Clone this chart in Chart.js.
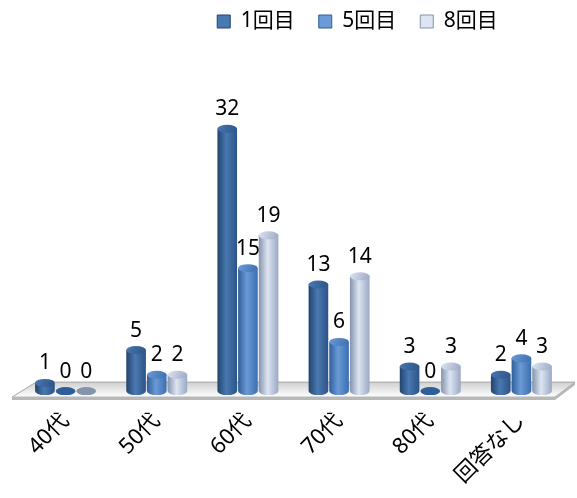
<!DOCTYPE html>
<html>
<head>
<meta charset="utf-8">
<script src="https://cdn.jsdelivr.net/npm/chart.js@4"></script>
<style>
  body { margin: 0; background: #fff; }
  #wrap { width: 577px; height: 498px; }
</style>
</head>
<body>
<div id="wrap"><canvas id="myChart"></canvas></div>
<script>
var ages = ['40代', '50代', '60代', '70代', '80代', '回答なし'];
var round1 = [1, 5, 32, 13, 3, 2];
var round5 = [0, 2, 15, 6, 0, 4];
var round8 = [0, 2, 19, 14, 3, 3];
var seriesNames = ['1回目', '5回目', '8回目'];

var FONT = "'Noto Sans', 'Noto Sans CJK JP', sans-serif";

// dark, mid, light tones for each series cylinder
var tones = [
  ['#22446d', '#4a78b0', '#2c5488'],
  ['#2f5f9a', '#6b9ad6', '#3b6fb0'],
  ['#8593ad', '#dde5f2', '#9aa8c4']
];

function shade(ctx, x, w, t) {
  var g = ctx.createLinearGradient(x - w / 2, 0, x + w / 2, 0);
  g.addColorStop(0, t[0]);
  g.addColorStop(0.45, t[1]);
  g.addColorStop(1, t[2]);
  return g;
}

// Excel puts the legend a bit right of centre and near the top
var legendShift = {
  id: 'legendShift',
  afterLayout: function (chart) {
    var lg = chart.legend;
    lg.left += 64;
    lg.right += 64;
    lg.top -= 13;
    lg.bottom -= 13;
  }
};

// 3D floor slab under the bars
var floorPlugin = {
  id: 'floor',
  beforeDatasetsDraw: function (chart) {
    var ctx = chart.ctx;
    var a = chart.chartArea;
    var y0 = chart.scales.y.getPixelForValue(0);
    ctx.save();
    var top = y0 - 9, front = y0 + 6;
    ctx.beginPath();
    ctx.moveTo(a.left - 8, front);
    ctx.lineTo(a.left + 16, top);
    ctx.lineTo(a.right + 8, top);
    ctx.lineTo(a.right - 12, front);
    ctx.closePath();
    var g = ctx.createLinearGradient(0, top, 0, front);
    g.addColorStop(0, '#d0d0d0');
    g.addColorStop(1, '#ffffff');
    ctx.fillStyle = g;
    ctx.fill();
    ctx.strokeStyle = '#a6a6a6';
    ctx.lineWidth = 1;
    ctx.stroke();
    // front edge thickness
    ctx.beginPath();
    ctx.moveTo(a.left - 8, front);
    ctx.lineTo(a.right - 12, front);
    ctx.lineTo(a.right + 8, top);
    ctx.lineTo(a.right + 8, top + 3);
    ctx.lineTo(a.right - 12, front + 3);
    ctx.lineTo(a.left - 8, front + 3);
    ctx.closePath();
    ctx.fillStyle = '#b8b8b8';
    ctx.fill();
    ctx.restore();
  }
};

// cylinders and value labels
var cylinderPlugin = {
  id: 'cylinders',
  afterDatasetsDraw: function (chart) {
    var ctx = chart.ctx;
    chart.data.datasets.forEach(function (ds, di) {
      var meta = chart.getDatasetMeta(di);
      var t = tones[di];
      meta.data.forEach(function (bar, i) {
        var x = bar.x, y = bar.y, base = bar.base, w = bar.width;
        var r = w / 2, ry = 4;
        ctx.save();
        ctx.fillStyle = shade(ctx, x, w, t);
        ctx.beginPath();
        ctx.moveTo(x - r, y);
        ctx.lineTo(x - r, base);
        ctx.ellipse(x, base, r, ry, 0, Math.PI, 0, true);
        ctx.lineTo(x + r, y);
        ctx.closePath();
        ctx.fill();
        ctx.beginPath();
        ctx.ellipse(x, y, r, ry, 0, 0, Math.PI * 2);
        var tg = ctx.createLinearGradient(x - r, y - ry, x + r, y + ry);
        tg.addColorStop(0, t[1]);
        tg.addColorStop(1, t[2]);
        ctx.fillStyle = ds.data[i] === 0 ? t[0] : tg;
        ctx.fill();
        // value label
        ctx.fillStyle = '#000';
        ctx.font = '21px ' + FONT;
        ctx.textAlign = 'center';
        ctx.textBaseline = 'bottom';
        ctx.fillText(String(ds.data[i]), x, y - 9);
        ctx.restore();
      });
    });
  }
};

var ctx = document.getElementById('myChart').getContext('2d');
var myChart = new Chart(ctx, {
  type: 'bar',
  data: {
    labels: ages,
    datasets: [
      { label: seriesNames[0], data: round1 },
      { label: seriesNames[1], data: round5 },
      { label: seriesNames[2], data: round8 }
    ].map(function (d) {
      d.backgroundColor = 'rgba(0,0,0,0)';
      d.borderWidth = 0;
      d.categoryPercentage = 0.68;
      d.barPercentage = 0.95;
      return d;
    })
  },
  plugins: [legendShift, floorPlugin, cylinderPlugin],
  options: {
    responsive: true,
    maintainAspectRatio: false,
    animation: false,
    layout: { padding: { left: 20, right: 10, top: 0, bottom: 0 } },
    plugins: {
      tooltip: { enabled: false },
      legend: {
        position: 'top',
        labels: {
          font: { size: 21, family: FONT },
          color: '#000',
          boxWidth: 13,
          boxHeight: 13,
          padding: 24,
          generateLabels: function (chart) {
            return seriesNames.map(function (n, i) {
              return {
                text: n, fillStyle: tones[i][1], strokeStyle: tones[i][0],
                lineWidth: 1, datasetIndex: i, fontColor: '#000'
              };
            });
          }
        }
      }
    },
    scales: {
      x: {
        grid: { display: false },
        border: { display: false },
        ticks: {
          color: '#000',
          font: { size: 22, family: FONT },
          minRotation: 45,
          maxRotation: 45,
          padding: 9
        }
      },
      y: {
        display: false,
        min: 0,
        max: 41
      }
    }
  }
});
</script>
</body>
</html>
